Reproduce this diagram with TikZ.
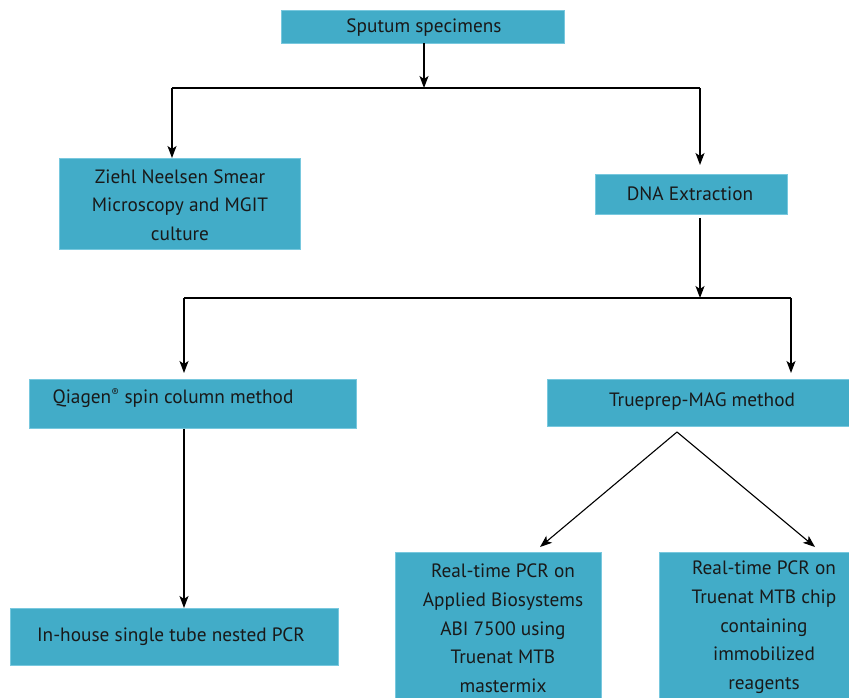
\documentclass[tikz,border=0pt]{standalone}
\usepackage{fontspec}
\setmainfont{PT Sans}
\usetikzlibrary{arrows.meta,calc}
\definecolor{boxc}{RGB}{66,172,200}
\definecolor{boxe}{RGB}{120,200,222}
\tikzset{
  box/.style={rectangle, fill=boxc, draw=boxe, line width=0.8pt, inner sep=0pt, anchor=north west},
  txt/.style={font=\fontsize{19.3}{28.6}\selectfont, text=black!90, align=center, inner sep=0pt},
  conn/.style={draw=black, line width=1.4pt},
  arr/.style={conn, -{Stealth[length=12pt,width=9pt,inset=3pt]}}
}
\begin{document}
\begin{tikzpicture}[x=1pt,y=-1pt]
\useasboundingbox (0,0) rectangle (849,697);
% boxes
\node[box, minimum width=283pt, minimum height=33pt] (sputum) at (281,10) {};
\node[box, minimum width=241pt, minimum height=91pt] (ziehl) at (59,158) {};
\node[box, minimum width=192pt, minimum height=40pt] (dna) at (595,174) {};
\node[box, minimum width=327pt, minimum height=49pt] (qiagen) at (29,379) {};
\node[box, minimum width=304pt, minimum height=47pt] (trueprep) at (547,379) {};
\node[box, minimum width=328pt, minimum height=57pt] (inhouse) at (10,608) {};
\begin{scope}
\clip (0,0) rectangle (849,697);
\node[box, minimum width=206pt, minimum height=150pt] (abi) at (395,552) {};
\node[box, minimum width=192pt, minimum height=150pt] (truenat) at (659,552) {};
\end{scope}
% texts
\node[txt] (tsputum) at (424,27.5) {Sputum specimens};
\node[txt] (tziehl) at (180,205) {Ziehl Neelsen Smear\\Microscopy and MGIT\\culture};
\node[txt] (tdna) at (690,194) {DNA Extraction};
\node[txt] (tqiagen) at (173,398) {Qiagen\textsuperscript{\fontsize{11}{11}\selectfont\textregistered} spin column method};
\node[txt] (ttrueprep) at (702,402) {Trueprep-MAG method};
\node[txt] (tinhouse) at (171,637) {In-house single tube nested PCR};
\node[txt, anchor=north] (tabi) at (503,564) {Real-time PCR on\\Applied Biosystems\\ABI 7500 using\\Truenat MTB\\mastermix};
\node[txt, anchor=north] (ttruenat) at (764,561) {Real-time PCR on\\Truenat MTB chip\\containing\\immobilized\\reagents};
% connectors
\coordinate (j1) at (424,88);
\coordinate (j1l) at (172,88);
\coordinate (j1r) at (700,88);
\draw[arr] (424,43) -- (j1);
\draw[conn] (j1l) -- (j1r);
\draw[arr] (j1l) -- (j1l |- ziehl.north);
\draw[arr, shorten >=9pt] (j1r) -- (j1r |- dna.north);
\coordinate (j2) at (700,298);
\coordinate (j2l) at (184,298);
\coordinate (j2r) at (791,298);
\draw[arr, shorten <=3pt] (j2 |- dna.south) -- (j2);
\draw[conn] (j2l) -- (j2r);
\draw[arr, shorten >=6pt] (j2l) -- (j2l |- qiagen.north);
\draw[arr, shorten >=6pt] (j2r) -- (j2r |- trueprep.north);
\draw[arr] (j2l |- qiagen.south) -- (j2l |- inhouse.north);
\coordinate (apex) at (677,432);
\draw[arr, line width=1.1pt] (apex) -- (540,547);
\draw[arr, line width=1.1pt] (apex) -- (815,547);
\end{tikzpicture}
\end{document}
